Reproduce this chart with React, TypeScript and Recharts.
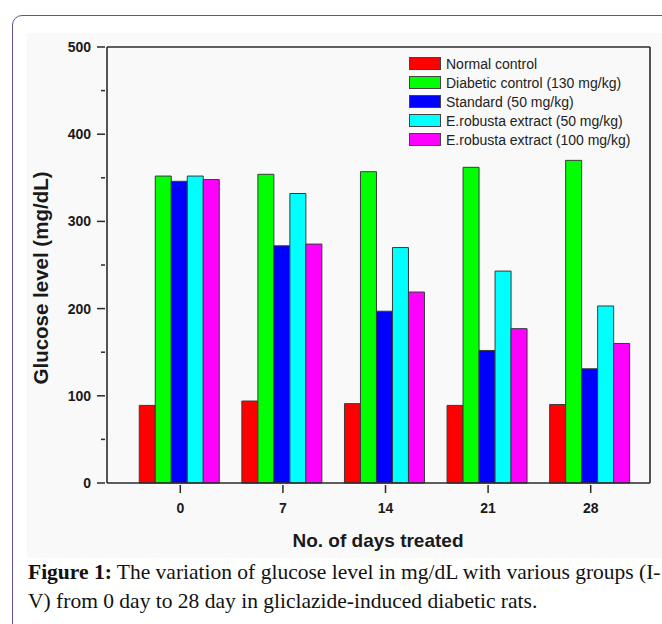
import React from 'react';
import { BarChart, Bar, XAxis, YAxis, Label } from 'recharts';

const days = ['0', '7', '14', '21', '28'];
const normalControl = [89, 94, 91, 89, 90];
const diabeticControl = [352, 354, 357, 362, 370];
const standard = [346, 272, 197, 152, 131];
const extract50 = [352, 332, 270, 243, 203];
const extract100 = [348, 274, 219, 177, 160];
const yTicks = [0, 50, 100, 150, 200, 250, 300, 350, 400, 450, 500];

const seriesInfo = [
  { key: 'normal', name: 'Normal control', color: '#ff0000', values: normalControl },
  { key: 'diabetic', name: 'Diabetic control (130 mg/kg)', color: '#00ff00', values: diabeticControl },
  { key: 'standard', name: 'Standard (50 mg/kg)', color: '#0000ff', values: standard },
  { key: 'ext50', name: 'E.robusta extract (50 mg/kg)', color: '#00ffff', values: extract50 },
  { key: 'ext100', name: 'E.robusta extract (100 mg/kg)', color: '#ff00ff', values: extract100 },
];

const data = days.map((d, i) => {
  const row: any = { day: d };
  seriesInfo.forEach((s) => {
    row[s.key] = s.values[i];
  });
  return row;
});

const FONT = '"Liberation Sans", Arial, sans-serif';
const SERIF = '"Liberation Serif", "Times New Roman", serif';
const AXIS = '#2a2a2a';

const YTick = (props: any) => {
  const { x, y, payload } = props;
  const major = payload.value % 100 === 0;
  return (
    <g>
      <line x1={x - (major ? 8 : 4)} x2={x} y1={y} y2={y} stroke={AXIS} strokeWidth={1.5} />
      {major && (
        <text x={x - 14} y={y} dy="0.36em" textAnchor="end" fontFamily={FONT} fontWeight="bold" fontSize={14} fill="#1a1a1a">
          {payload.value}
        </text>
      )}
    </g>
  );
};

const XTick = (props: any) => {
  const { x, y, payload } = props;
  return (
    <g>
      <line x1={x} x2={x} y1={y} y2={y + 8} stroke={AXIS} strokeWidth={1.5} />
      <text x={x} y={y + 18} dy="0.71em" textAnchor="middle" fontFamily={FONT} fontWeight="bold" fontSize={14} fill="#1a1a1a">
        {payload.value}
      </text>
    </g>
  );
};

const LegendBox = () => (
  <div style={{ position: 'absolute', left: 409, top: 54, fontFamily: FONT, fontSize: 14, color: '#222' }}>
    {seriesInfo.map((s) => (
      <div key={s.key} style={{ display: 'flex', alignItems: 'center', height: 19, whiteSpace: 'nowrap' }}>
        <div style={{ width: 30, height: 11, background: s.color, border: '1px solid #444', marginRight: 5 }} />
        <span>{s.name}</span>
      </div>
    ))}
  </div>
);

export default function App() {
  return (
    <div style={{ position: 'absolute', left: 0, top: 0, width: 662, height: 624, overflow: 'hidden', background: '#fff' }}>
      <div
        style={{
          position: 'absolute',
          left: 12,
          top: 15,
          width: 720,
          height: 700,
          border: '1.5px solid #5b53a0',
          borderRadius: 10,
          boxSizing: 'border-box',
        }}
      />
      <div style={{ position: 'absolute', left: 27, top: 33, width: 660, height: 525, background: '#f9f9f9' }} />
      <div style={{ position: 'absolute', left: 0, top: 0 }}>
        <BarChart
          width={662}
          height={560}
          data={data}
          margin={{ top: 46, right: 11, left: 57, bottom: 47 }}
          barCategoryGap="10%"
          barGap={0}
        >
          <XAxis
            dataKey="day"
            height={30}
            padding={{ left: 22, right: 8 }}
            tickSize={0}
            tickLine={false}
            tick={<XTick />}
            axisLine={{ stroke: AXIS, strokeWidth: 1.6 }}
            interval={0}
          >
            <Label
              content={() => (
                <text x={378} y={547} textAnchor="middle" fontFamily={FONT} fontWeight="bold" fontSize={19} fill="#1a1a1a">
                  No. of days treated
                </text>
              )}
            />
          </XAxis>
          <XAxis
            xAxisId="top"
            dataKey="day"
            orientation="top"
            height={1}
            tick={false}
            tickLine={false}
            axisLine={{ stroke: AXIS, strokeWidth: 1.6 }}
          />
          <YAxis
            domain={[0, 500]}
            ticks={yTicks}
            width={50}
            tickSize={0}
            tickLine={false}
            tick={<YTick />}
            axisLine={{ stroke: AXIS, strokeWidth: 1.6 }}
            interval={0}
          >
            <Label
              content={() => (
                <text
                  x={48}
                  y={278}
                  transform="rotate(-90 48 278)"
                  textAnchor="middle"
                  fontFamily={FONT}
                  fontWeight="bold"
                  fontSize={20.5}
                  fill="#1a1a1a"
                >
                  Glucose level (mg/dL)
                </text>
              )}
            />
          </YAxis>
          <YAxis
            yAxisId="right"
            orientation="right"
            domain={[0, 500]}
            width={1}
            tick={false}
            tickLine={false}
            axisLine={{ stroke: AXIS, strokeWidth: 1.6 }}
          />
          {seriesInfo.map((s) => (
            <Bar key={s.key} dataKey={s.key} name={s.name} fill={s.color} stroke="#3a3a3a" strokeWidth={1} isAnimationActive={false} />
          ))}
        </BarChart>
      </div>
      <LegendBox />
      <svg style={{ position: 'absolute', left: 0, top: 0 }} width={662} height={624}>
        <text x={28} y={579} fontFamily={SERIF} fontSize={21.5} fill="#111">
          <tspan fontWeight="bold">Figure 1:</tspan>
          <tspan> The variation of glucose level in mg/dL with various groups (I-</tspan>
        </text>
        <text x={28} y={608} fontFamily={SERIF} fontSize={21.5} fill="#111">
          V) from 0 day to 28 day in gliclazide-induced diabetic rats.
        </text>
      </svg>
    </div>
  );
}
